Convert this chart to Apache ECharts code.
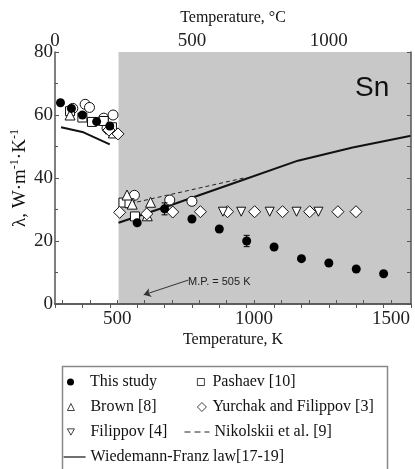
<!DOCTYPE html>
<html>
<head>
<meta charset="utf-8">
<script src="https://cdn.jsdelivr.net/npm/echarts@6/dist/echarts.min.js"></script>
<style>
html, body { margin: 0; padding: 0; background: #fff; }
#main { width: 415px; height: 469px; }
</style>
</head>
<body>
<div id="main"></div>
<script>
// data (T in K, lambda in W/m/K)
var studyT = [293, 333, 373, 425, 473, 573, 673, 773, 873, 973, 1073, 1173, 1273, 1373, 1473];
var studyL = [63.9, 62.1, 60.0, 57.9, 56.5, 25.8, 30.2, 27.0, 23.8, 20.0, 18.1, 14.4, 13.0, 11.1, 9.6];
var studyErr = [0, 0, 0, 0, 0, 0.6, 1.9, 0.6, 0.6, 1.8, 0.5, 0.6, 0.5, 0.5, 0.5];

var pashaevT = [328, 373, 408, 451, 481, 523, 545, 565];
var pashaevL = [61.2, 59.2, 57.8, 58.1, 56.1, 32.2, 32.0, 27.8];

var brownT = [328, 475, 486, 536, 555, 610, 622];
var brownL = [60.0, 55.6, 54.3, 34.6, 31.7, 28.0, 32.3];

var circT = [338, 383, 399, 451, 485, 463, 563, 692, 773];
var circL = [62.1, 63.4, 62.4, 59.0, 60.0, 55.8, 34.5, 33.0, 32.6];

var yurchakT = [470, 503, 509, 608, 703, 804, 903, 1002, 1104, 1203, 1306, 1372];
var yurchakL = [55.2, 54.0, 29.1, 28.6, 29.2, 29.3, 29.3, 29.3, 29.3, 29.3, 29.3, 29.3];

var filippovT = [886, 953, 1057, 1155, 1235];
var filippovL = [29.3, 29.3, 29.3, 29.3, 29.3];

var nikolskiiT = [523, 973];
var nikolskiiL = [31.4, 40.2];

var wfSolidT = [295, 377, 473];
var wfSolidL = [56.1, 54.5, 50.7];
var wfLiquidT = [505, 700, 930, 1160, 1360, 1573];
var wfLiquidL = [25.8, 31.5, 38.5, 45.5, 49.7, 53.4];

var meltT = 505;
var tickK = [300, 400, 500, 600, 700, 800, 900, 1000, 1100, 1200, 1300, 1400, 1500];
var labelK = [500, 1000, 1500];
var labelC = [0, 500, 1000];

function pairs(xs, ys) {
    return xs.map(function(x, i) { return [x, ys[i]]; });
}

var serif = 'Liberation Serif';
var axisCol = '#555';

var myChart = echarts.init(document.getElementById('main'));

function hollow(name, sym, size, xs, ys) {
    return {
        name: name,
        type: 'scatter',
        symbol: sym,
        symbolSize: size,
        itemStyle: { color: '#fff', borderColor: '#111', borderWidth: 1, opacity: 1 },
        data: pairs(xs, ys),
        z: 3
    };
}

function legendAt(name, left, top, w, h, pad, line) {
    var l = {
        data: [name],
        left: left,
        top: top,
        padding: 0,
        itemWidth: w,
        itemHeight: h,
        selectedMode: false,
        itemStyle: { borderWidth: 0.8 },
        textStyle: { fontFamily: serif, fontSize: 16, color: '#111', padding: [0, 0, 0, pad] }
    };
    if (line) {
        // line entries: hide the default marker, keep only the stroke
        l.itemStyle = { opacity: 0 };
        l.lineStyle = line;
    }
    return l;
}

var option = {
    animation: false,
    backgroundColor: '#fff',
    grid: { left: 55, right: 4, top: 52, bottom: 165, outerBoundsMode: 'none' },
    xAxis: [{
        type: 'value',
        position: 'bottom',
        min: 273,
        max: 1573,
        z: 5,
        name: 'Temperature, K',
        nameLocation: 'middle',
        nameGap: 28,
        nameMoveOverlap: false,
        nameTextStyle: { fontFamily: serif, fontSize: 16, color: '#111' },
        axisLine: { lineStyle: { color: axisCol, width: 1.5 } },
        axisTick: { inside: true, length: 4, customValues: tickK, lineStyle: { color: axisCol } },
        axisLabel: {
            customValues: labelK, fontFamily: serif, fontSize: 19, color: '#222', margin: 6,
            formatter: function(v) { return String(v); }
        },
        splitLine: { show: false }
    }, {
        type: 'value',
        position: 'top',
        min: 0,
        max: 1300,
        interval: 100,
        z: 5,
        name: 'Temperature, °C',
        nameLocation: 'middle',
        nameGap: 26,
        nameTextStyle: { fontFamily: serif, fontSize: 16, color: '#111' },
        axisLine: { lineStyle: { color: axisCol, width: 1.5 } },
        axisTick: { inside: true, length: 4, lineStyle: { color: axisCol } },
        axisLabel: {
            fontFamily: serif, fontSize: 19, color: '#222', margin: 1,
            formatter: function(v) { return labelC.indexOf(v) >= 0 ? String(v) : ''; }
        },
        splitLine: { show: false }
    }],
    yAxis: [{
        type: 'value',
        min: 0,
        max: 80,
        interval: 20,
        z: 5,
        name: '{a|λ, W·m}{s|-1}{a|·K}{s|-1}',
        nameLocation: 'middle',
        nameRotate: 90,
        nameGap: 24,
        nameMoveOverlap: false,
        nameTextStyle: {
            rich: {
                a: { fontFamily: serif, fontSize: 19, color: '#111', lineHeight: 22 },
                s: { fontFamily: serif, fontSize: 12, color: '#111', lineHeight: 12, verticalAlign: 'top' }
            }
        },
        axisLine: { show: true, lineStyle: { color: axisCol, width: 1.5 } },
        axisTick: { inside: true, length: 4, lineStyle: { color: axisCol } },
        minorTick: { show: true, splitNumber: 2, length: 3, lineStyle: { color: axisCol } },
        axisLabel: { fontFamily: serif, fontSize: 19, color: '#222', margin: 2 },
        splitLine: { show: false },
        minorSplitLine: { show: false }
    }, {
        type: 'value',
        position: 'right',
        min: 0,
        max: 80,
        interval: 10,
        z: 5,
        axisLine: { show: true, lineStyle: { color: axisCol, width: 1.5 } },
        axisTick: { inside: true, length: 4, lineStyle: { color: axisCol } },
        axisLabel: { show: false },
        splitLine: { show: false }
    }],
    legend: [
        legendAt('This study', 67, 374, 7, 7, 11),
        legendAt('Pashaev [10]', 197, 374, 7, 7, 3),
        legendAt('Brown [8]', 67, 399, 7, 7, 11),
        legendAt('Yurchak and Filippov [3]', 197, 399, 9, 9, 1),
        legendAt('Filippov [4]', 67, 424, 7, 7, 11),
        legendAt('Nikolskii et al. [9]', 184, 424, 25, 10, 0, { width: 1, type: [6, 4], color: '#222' }),
        legendAt('Wiedemann-Franz law[17-19]', 63, 449, 22, 10, 0, { width: 1.2, color: '#111' })
    ],
    graphic: [{
        type: 'rect',
        left: 60,
        top: 364,
        shape: { width: 325, height: 115 },
        style: { fill: 'none', stroke: '#888', lineWidth: 1.5 },
        silent: true
    }, {
        type: 'text',
        left: 355,
        top: 74,
        z: 10,
        style: { text: 'Sn', font: '28px "Liberation Sans"', fill: '#111' }
    }, {
        type: 'text',
        left: 188,
        top: 276,
        z: 10,
        style: { text: 'M.P. = 505 K', font: '11px "Liberation Sans"', fill: '#222' }
    }],
    series: [{
        name: 'This study',
        type: 'scatter',
        symbol: 'circle',
        symbolSize: 9,
        itemStyle: { color: '#000', opacity: 1 },
        data: pairs(studyT, studyL),
        z: 4,
        markArea: {
            silent: true,
            itemStyle: { color: '#c8c8c8' },
            data: [[{ xAxis: meltT, yAxis: 0 }, { xAxis: 1573, yAxis: 80 }]]
        },
        markLine: {
            silent: true,
            symbol: ['none', 'arrow'],
            symbolSize: 7,
            label: { show: false },
            lineStyle: { color: '#333', width: 1, type: 'solid' },
            data: [[{ coord: [760, 7.6] }, { coord: [597, 2.9] }]]
        }
    }, {
        name: 'errors',
        type: 'custom',
        z: 4,
        data: studyT.map(function(t, i) { return [t, studyL[i], studyErr[i]]; }),
        renderItem: function(params, api) {
            var e = api.value(2);
            if (!e) return;
            var hi = api.coord([api.value(0), api.value(1) + e]);
            var lo = api.coord([api.value(0), api.value(1) - e]);
            var c = { stroke: '#000', lineWidth: 1 };
            return {
                type: 'group',
                children: [
                    { type: 'line', shape: { x1: hi[0], y1: hi[1], x2: lo[0], y2: lo[1] }, style: c },
                    { type: 'line', shape: { x1: hi[0] - 3, y1: hi[1], x2: hi[0] + 3, y2: hi[1] }, style: c },
                    { type: 'line', shape: { x1: lo[0] - 3, y1: lo[1], x2: lo[0] + 3, y2: lo[1] }, style: c }
                ]
            };
        }
    },
    hollow('other', 'circle', 10, circT, circL),
    hollow('Pashaev [10]', 'rect', 9, pashaevT, pashaevL),
    hollow('Brown [8]', 'triangle', 10, brownT, brownL),
    hollow('Yurchak and Filippov [3]', 'diamond', 12, yurchakT, yurchakL),
    hollow('Filippov [4]', 'path://M0,0 L10,0 L5,9 Z', 9, filippovT, filippovL),
    {
        name: 'Nikolskii et al. [9]',
        type: 'line',
        symbol: 'none',
        itemStyle: { color: '#222' },
        lineStyle: { color: '#222', width: 1, type: [4, 3] },
        data: pairs(nikolskiiT, nikolskiiL),
        z: 2
    }, {
        name: 'Wiedemann-Franz law[17-19]',
        type: 'line',
        symbol: 'none',
        itemStyle: { color: '#111' },
        lineStyle: { color: '#111', width: 2 },
        data: pairs(wfSolidT, wfSolidL),
        z: 2
    }, {
        name: 'Wiedemann-Franz law[17-19]',
        type: 'line',
        symbol: 'none',
        itemStyle: { color: '#111' },
        lineStyle: { color: '#111', width: 2 },
        data: pairs(wfLiquidT, wfLiquidL),
        z: 2
    }]
};

myChart.setOption(option);
</script>
</body>
</html>
